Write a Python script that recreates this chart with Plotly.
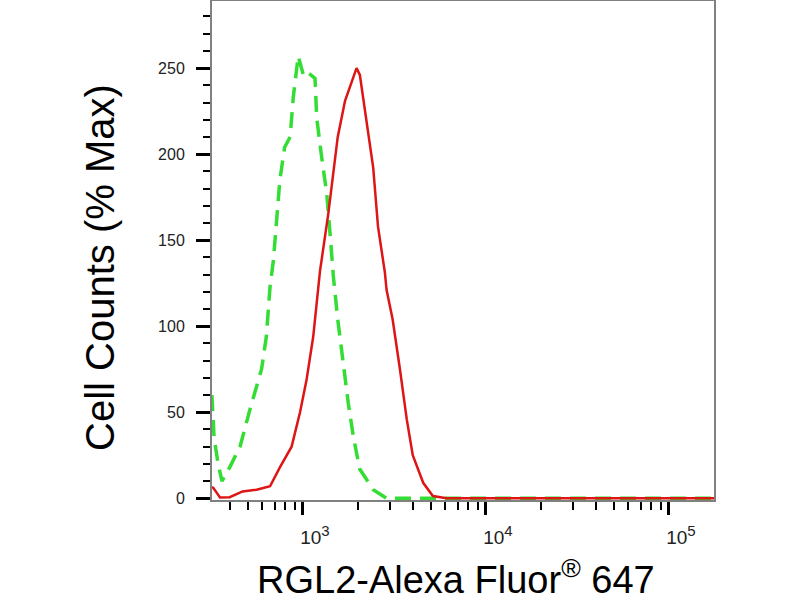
import plotly.graph_objects as go

# RGL2-Alexa Fluor 647 stained sample (red, solid)
sample_x = [318, 324, 339, 352, 398, 468, 558, 661, 748, 867, 964, 1047, 1138,
            1239, 1374, 1466, 1549, 1698, 1845, 1963, 2046, 2228, 2421, 2570,
            2805, 2864, 3090, 3388, 3690, 3981, 4539, 5129, 6095, 10000, 31623,
            100000, 177828]
sample_y = [6.5, 6, 3, 0.5, 0.6, 4, 5, 7, 18, 30, 50, 69, 94,
            132, 165, 189, 210, 231, 242, 250, 246, 218, 192, 158,
            131, 121, 104, 75, 46, 25, 9, 1.3, 0, 0, 0,
            0, 0]

# isotype / unstained control (green, dashed)
control_x = [318, 327, 344, 361, 398, 453, 513, 594, 631, 661, 689, 718, 748,
             794, 851, 885, 942, 1005, 1047, 1164, 1189, 1259, 1349, 1406,
             1466, 1549, 1660, 1770, 1884, 2042, 2421, 2864, 10000, 100000,
             177828]
control_y = [60, 35, 20, 10, 18, 30, 51.5, 75, 94, 123, 138, 161, 185,
             204, 210, 233, 257, 246, 248, 244, 221, 200, 177, 154,
             129, 104, 78.5, 55, 36, 17, 5, 0, 0, 0,
             0]

x_major = [1000, 10000, 100000]
x_major_text = ["10<sup><span style='font-size:15px'>3</span></sup>",
                "10<sup><span style='font-size:15px'>4</span></sup>",
                "10<sup><span style='font-size:15px'>5</span></sup>"]
x_minor = [400, 500, 600, 700, 800, 900,
           2000, 3000, 4000, 5000, 6000, 7000, 8000, 9000,
           20000, 30000, 40000, 50000, 60000, 70000, 80000, 90000]
y_major = [0, 50, 100, 150, 200, 250]

fig = go.Figure()
fig.add_trace(go.Scatter(x=control_x, y=control_y, mode="lines",
                         line=dict(color="#33dd33", width=3.5, dash="16px,9px")))
fig.add_trace(go.Scatter(x=sample_x, y=sample_y, mode="lines",
                         line=dict(color="#dd1515", width=2.5)))

fig.update_layout(
    width=800, height=600,
    margin=dict(l=212, r=86, t=1, b=100, autoexpand=False),
    plot_bgcolor="white", paper_bgcolor="white",
    showlegend=False,
    font=dict(family="Liberation Sans, Arial", color="#111"),
    annotations=[
        dict(text="Cell Counts (% Max)", xref="paper", yref="paper",
             x=-0.271, y=0.467, textangle=-90, showarrow=False,
             font=dict(size=40, color="black")),
        dict(text="RGL2-Alexa Fluor<sup>®</sup> 647", xref="paper", yref="paper",
             x=0.487, y=-0.207, showarrow=False,
             font=dict(size=38, color="black")),
    ],
)

fig.update_xaxes(
    type="log", range=[2.503, 5.246], automargin=False,
    tickmode="array", tickvals=x_major, ticktext=x_major_text,
    ticks="outside", ticklen=13, tickwidth=3, tickcolor="black",
    ticklabelstandoff=6, ticklabelshift=12,
    tickfont=dict(size=19, color="#222"),
    minor=dict(tickmode="array", tickvals=x_minor, ticks="outside",
               ticklen=8, tickwidth=2, tickcolor="black", showgrid=False),
    showgrid=False, zeroline=False,
    showline=True, linecolor="#808080", linewidth=2, mirror=True,
)
fig.update_yaxes(
    range=[-1, 289], automargin=False,
    tickmode="array", tickvals=y_major,
    ticks="outside", ticklen=14, tickwidth=3, tickcolor="black",
    ticklabelstandoff=8,
    tickfont=dict(size=16, color="#222"),
    minor=dict(dtick=10, tick0=0, ticks="outside",
               ticklen=7, tickwidth=2, tickcolor="black", showgrid=False),
    showgrid=False, zeroline=False,
    showline=True, linecolor="#808080", linewidth=2, mirror=True,
)

fig.write_html("out.html", config={"displayModeBar": False},
               post_script="document.body.style.margin='0';")
